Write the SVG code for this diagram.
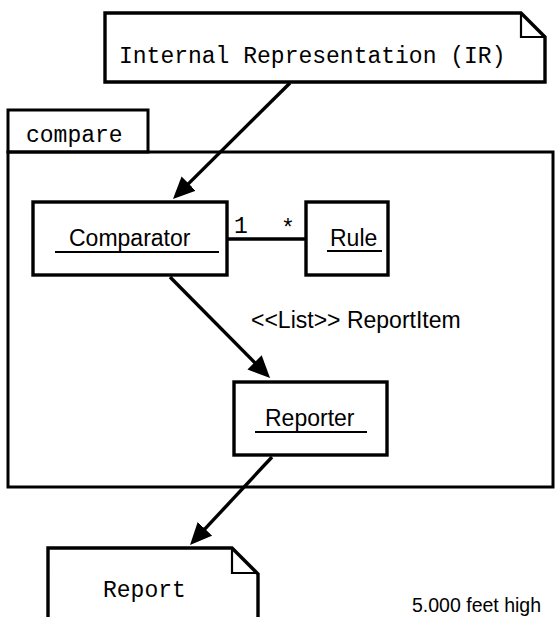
<svg xmlns="http://www.w3.org/2000/svg" width="556" height="617" viewBox="0 0 556 617">
  <style>
    .box { fill: #ffffff; stroke: #000000; stroke-width: 3.4; }
    .pkg { fill: none; stroke: #000000; stroke-width: 3; }
    .fold { fill: none; stroke: #000000; stroke-width: 2.2; }
    .edge { fill: none; stroke: #000000; stroke-width: 3.4; }
    .ul { stroke: #000000; stroke-width: 2; }
    .mono { font-family: "Liberation Mono", "Courier New", monospace; font-size: 23px; fill: #000000; }
    .sans { font-family: "Liberation Sans", Arial, sans-serif; font-size: 23px; fill: #000000; }
    .note { font-family: "Liberation Sans", Arial, sans-serif; font-size: 19.5px; fill: #000000; }
  </style>
  <defs>
    <marker id="arrow" markerUnits="userSpaceOnUse" markerWidth="24" markerHeight="22" refX="10" refY="10" orient="auto">
      <path d="M0,0 L22,10 L0,20 Z" fill="#000000"/>
    </marker>
  </defs>
  <rect width="556" height="617" fill="#ffffff"/>

  <!-- package "compare" -->
  <g id="pkg-compare">
    <rect class="pkg" x="8" y="110" width="140" height="42"/>
    <rect class="pkg" x="8" y="152" width="545" height="335"/>
    <text class="mono" x="26" y="142">compare</text>
  </g>

  <!-- document: Internal Representation -->
  <g id="doc-ir">
    <path class="box" d="M105,13 L521,13 L545,37 L545,82 L105,82 Z"/>
    <path class="fold" d="M521,13 L521,37 L545,37"/>
    <text class="mono" x="119" y="63">Internal Representation (IR)</text>
  </g>

  <!-- object: Comparator -->
  <g id="obj-comparator">
    <rect class="box" x="33" y="202" width="194" height="73"/>
    <text class="sans" x="69" y="246">Comparator</text>
    <line class="ul" x1="55" y1="252" x2="219" y2="252"/>
  </g>

  <!-- object: Rule -->
  <g id="obj-rule">
    <rect class="box" x="306" y="202" width="82" height="73"/>
    <text class="sans" x="330" y="246">Rule</text>
    <line class="ul" x1="327" y1="251" x2="382" y2="251"/>
  </g>

  <!-- object: Reporter -->
  <g id="obj-reporter">
    <rect class="box" x="234" y="382" width="153" height="73"/>
    <text class="sans" x="265" y="426">Reporter</text>
    <line class="ul" x1="255" y1="432" x2="367" y2="432"/>
  </g>

  <!-- document: Report -->
  <g id="doc-report">
    <path class="box" d="M48,548 L232,548 L258,574 L258,625 L48,625 Z"/>
    <path class="fold" d="M232,548 L232,573 L258,573"/>
    <text class="mono" x="103" y="597">Report</text>
  </g>

  <!-- connectors -->
  <g id="connectors">
    <line class="edge" x1="290" y1="83" x2="181.5" y2="190.6" marker-end="url(#arrow)"/>
    <line class="edge" x1="227" y1="239" x2="306" y2="239"/>
    <text class="mono" x="234" y="233">1</text>
    <text class="mono" x="281" y="236">*</text>
    <line class="edge" x1="170" y1="277" x2="261.6" y2="369.5" marker-end="url(#arrow)"/>
    <text class="sans" x="251" y="328">&lt;&lt;List&gt;&gt; ReportItem</text>
    <line class="edge" x1="272" y1="457" x2="198.2" y2="536.2" marker-end="url(#arrow)"/>
  </g>

  <text class="note" x="412" y="612">5.000 feet high</text>
</svg>
